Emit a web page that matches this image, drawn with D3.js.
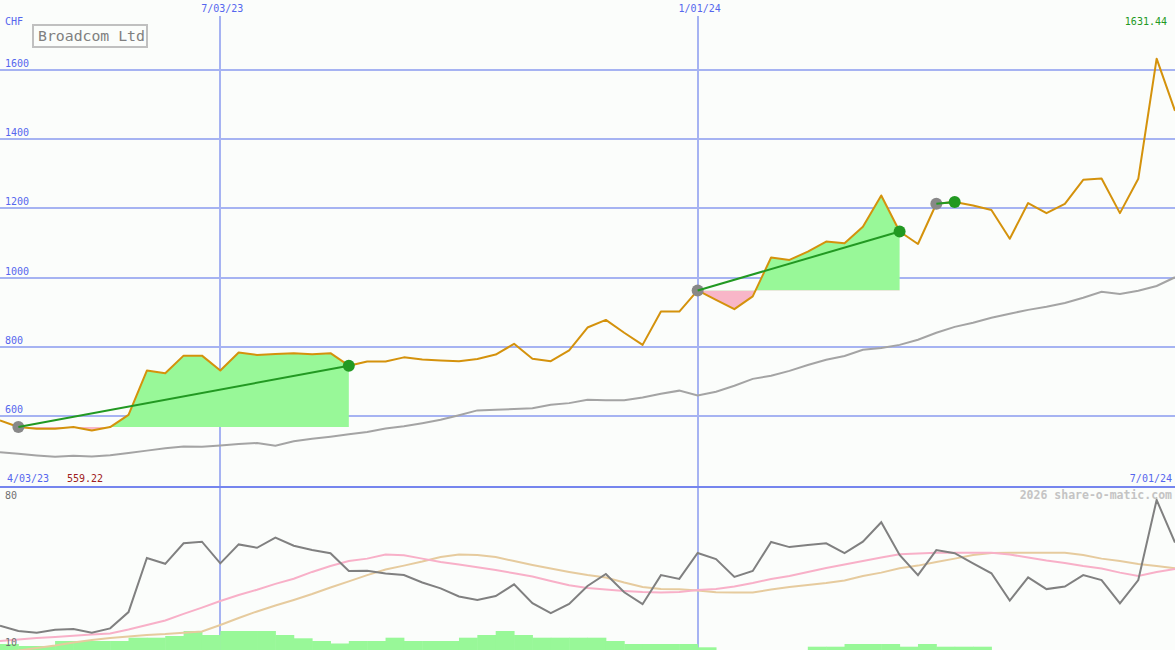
<!DOCTYPE html>
<html><head><meta charset="utf-8">
<script src="https://cdn.jsdelivr.net/npm/d3@7"></script>
<style>body{margin:0;background:#fbfdfb;} svg{display:block;}</style>
</head><body><svg id="c" width="1175" height="650"></svg>
<script>
// ---- data ----
const dates = ["2023-04-10","2023-04-17","2023-04-24","2023-05-01","2023-05-08","2023-05-15","2023-05-22","2023-05-29","2023-06-05","2023-06-12",
"2023-06-19","2023-06-26","2023-07-03","2023-07-10","2023-07-17","2023-07-24","2023-07-31","2023-08-07","2023-08-14","2023-08-21",
"2023-08-28","2023-09-04","2023-09-11","2023-09-18","2023-09-25","2023-10-02","2023-10-09","2023-10-16","2023-10-23","2023-10-30",
"2023-11-06","2023-11-13","2023-11-20","2023-11-27","2023-12-04","2023-12-11","2023-12-18","2023-12-25","2024-01-01","2024-01-08",
"2024-01-15","2024-01-22","2024-01-29","2024-02-05","2024-02-12","2024-02-19","2024-02-26","2024-03-04","2024-03-11","2024-03-18",
"2024-03-25","2024-04-01","2024-04-08","2024-04-15","2024-04-22","2024-04-29","2024-05-06","2024-05-13","2024-05-20","2024-05-27",
"2024-06-03","2024-06-10","2024-06-17","2024-06-24","2024-07-01"];
const price = [588,569,564,564,569,559.22,569,604,732,724,
775,775,732,784,777,780,782,779,782,746,
758,758,770,764,761,759,765,778,809,766,
759,790,856,878,841,806,902,902,963,936,
909,946,1058,1051,1075,1104,1099,1147,1237,1133,
1097,1213,1218,1208,1195,1112,1215,1186,1213,1282,
1286,1186,1285,1631.44,1481];
const movingAvg = [496,492,487,483,486,484,488,494,501,508,
513,512,516,520,523,515,528,535,541,548,
555,565,571,580,590,603,617,619,621,623,
633,638,648,646,646,654,665,674,660,671,
688,708,717,731,748,763,774,792,797,806,
821,841,858,870,884,896,907,916,927,942,
959,953,962,976,1001];
const oscillator = [19.9,17.5,16.8,18.1,18.4,16.8,18.7,25.9,49.9,47.3,
56.4,57.1,47.5,55.9,54.4,58.9,55.3,53.4,52.0,44.1,
44.2,43.0,42.3,39.0,36.4,32.8,31.3,33.0,38.2,29.9,
25.4,29.5,37.5,42.8,34.7,29.4,42.3,40.6,52.1,49.4,
41.5,44.1,57.0,54.7,55.6,56.4,52.0,57.1,65.7,51.2,
42.3,53.4,52.0,47.5,43.1,31.0,41.3,36.1,37.2,42.3,
40.1,29.8,40.1,75.6,56.7];
const oscFast = [13.1,13.8,14.4,14.9,15.4,16.0,16.4,18.2,20.2,22.2,
25.1,27.9,30.8,33.5,35.8,38.4,40.7,43.7,46.3,48.5,
49.6,51.4,51.1,49.6,48.1,47.0,45.8,44.6,43.1,41.7,
39.7,37.8,36.6,35.9,35.3,34.8,34.6,34.8,35.7,36.1,
37.2,38.8,40.6,41.9,43.7,45.4,47.0,48.5,50.1,51.5,
51.9,52.2,52.2,52.2,52.2,51.4,50.1,48.8,47.7,46.3,
45.2,43.4,41.9,43.7,45.0];
const oscSlow = [8.2,8.9,10.0,11.1,12.4,13.5,14.4,15.1,15.8,16.2,
16.8,17.3,20.2,23.3,26.2,28.8,31.3,33.9,36.8,39.5,
42.3,44.8,46.5,48.3,50.3,51.4,51.2,50.3,48.5,46.8,
45.2,43.7,42.3,41.2,39.0,37.0,36.1,36.0,35.5,34.7,
34.6,34.6,35.9,37.0,37.9,38.8,39.9,41.9,43.4,45.3,
46.5,48.1,49.6,51.2,52.1,52.2,52.2,52.2,52.2,51.2,
49.6,48.5,47.2,46.3,45.3];
const volume = [6,4,4,9,9,9,9,12.3,12.3,14,
19,15,19,19,19,15,11.7,9,6.5,9,
9,12.3,9,9,9,12.3,15,19,15,12.3,
12.3,12.3,12.3,9,6,6,6,6,2.7,0,
0,0,0,0,3.3,3.3,6,6,6,3.3,
6,3.3,3.3,3.3,0,0,0,0,0,0,
0,0,0,0,0];
const priceTicks = [600,800,1000,1200,1400,1600];
const dateTickDates = ["2023-07-03","2024-01-01"];
const dateTickLabels = ["7/03/23","1/01/24"];
const trendStarts = [1,38,51];
const trendEnds = [19,49,52];
const title = "Broadcom Ltd";
const currency = "CHF";
const startLabel = "4/03/23", endLabel = "7/01/24";
const minLabel = "559.22", maxLabel = "1631.44";
const oscTicks = [80,10];
const credit = "2026 share-o-matic.com";

// ---- drawing ----
const parse = d3.timeParse("%Y-%m-%d");
const D = dates.map(parse);
const W = 1175, H = 650;
const svg = d3.select("#c");
const FONT = "DejaVu Sans Mono, monospace";

const x = d3.scaleTime().domain([D[0], D[D.length-1]]).range([0, W]);
const y = d3.scaleLinear().domain([600,1600]).range([416.3, 69.6]);
const yo = d3.scaleLinear().domain([10,80]).range([648, 490]);
const yv = d3.scaleLinear().domain([0,20]).range([650, 630]);

svg.append("rect").attr("width",W).attr("height",H).attr("fill","#fbfdfb");

const defs = svg.append("defs");
defs.append("clipPath").attr("id","upper").append("rect").attr("x",0).attr("y",0).attr("width",W).attr("height",486);
defs.append("clipPath").attr("id","lower").append("rect").attr("x",0).attr("y",488).attr("width",W).attr("height",H-488);

const gridCol = "#a6b3f2";
// horizontal grid
svg.append("g").selectAll("line").data(priceTicks).join("line")
  .attr("x1",0).attr("x2",W)
  .attr("y1",d=>Math.round(y(d))).attr("y2",d=>Math.round(y(d)))
  .attr("stroke",gridCol).attr("stroke-width",2);
// vertical grid
svg.append("g").selectAll("line").data(dateTickDates).join("line")
  .attr("x1",d=>Math.round(x(parse(d)))).attr("x2",d=>Math.round(x(parse(d))))
  .attr("y1",16).attr("y2",H)
  .attr("stroke",gridCol).attr("stroke-width",2);

// fills for trend segments
const up = svg.append("g").attr("clip-path","url(#upper)");
trendStarts.forEach((s,k)=>{
  const e = trendEnds[k];
  const base = price[s];
  const yb = y(base);
  const idx = d3.range(s, e+1);
  const area = d3.area().x(i=>x(D[i])).y0(yb).y1(i=>y(price[i]));
  const ca = "above"+k, cb = "below"+k;
  defs.append("clipPath").attr("id",ca).append("rect").attr("x",0).attr("y",0).attr("width",W).attr("height",yb);
  defs.append("clipPath").attr("id",cb).append("rect").attr("x",0).attr("y",yb).attr("width",W).attr("height",H-yb);
  up.append("path").attr("d",area(idx)).attr("fill","#98f898").attr("clip-path",`url(#${ca})`);
  up.append("path").attr("d",area(idx)).attr("fill","#f8b6c8").attr("clip-path",`url(#${cb})`);
});

// moving average
up.append("path").datum(d3.range(D.length))
  .attr("d",d3.line().x(i=>x(D[i])).y(i=>y(movingAvg[i])))
  .attr("fill","none").attr("stroke","#a4a4a4").attr("stroke-width",2);
// price
up.append("path").datum(d3.range(D.length))
  .attr("d",d3.line().x(i=>x(D[i])).y(i=>y(price[i])))
  .attr("fill","none").attr("stroke","#d4920c").attr("stroke-width",2).attr("stroke-linejoin","round");

// start markers
up.selectAll("circle.s").data(trendStarts).join("circle")
  .attr("cx",i=>x(D[i])).attr("cy",i=>y(price[i])).attr("r",6).attr("fill","#888888");
// trend lines
trendStarts.forEach((s,k)=>{
  const e = trendEnds[k];
  up.append("line").attr("x1",x(D[s])).attr("y1",y(price[s])).attr("x2",x(D[e])).attr("y2",y(price[e]))
    .attr("stroke","#229922").attr("stroke-width",2);
});
up.selectAll("circle.e").data(trendEnds).join("circle")
  .attr("cx",i=>x(D[i])).attr("cy",i=>y(price[i])).attr("r",6).attr("fill","#229922");

// separator
svg.append("line").attr("x1",0).attr("x2",W).attr("y1",487).attr("y2",487)
  .attr("stroke","#7585ee").attr("stroke-width",2);

// lower panel
const lo = svg.append("g").attr("clip-path","url(#lower)");
lo.selectAll("rect").data(d3.range(D.length-1)).join("rect")
  .attr("x",i=>x(D[i])).attr("width",i=>x(D[i+1])-x(D[i])+0.5)
  .attr("y",i=>yv(volume[i])).attr("height",i=>yv(0)-yv(volume[i]))
  .attr("fill","#98f898");
const lineO = arr => d3.line().x(i=>x(D[i])).y(i=>yo(arr[i]));
lo.append("path").datum(d3.range(D.length)).attr("d",lineO(oscSlow))
  .attr("fill","none").attr("stroke","#e6cb9e").attr("stroke-width",2);
lo.append("path").datum(d3.range(D.length)).attr("d",lineO(oscFast))
  .attr("fill","none").attr("stroke","#f8b0c8").attr("stroke-width",2);
lo.append("path").datum(d3.range(D.length)).attr("d",lineO(oscillator))
  .attr("fill","none").attr("stroke","#808080").attr("stroke-width",2);

// texts
const txt = (t,xx,yy,col,opts={}) => svg.append("text").text(t).attr("x",xx).attr("y",yy)
  .attr("fill",col).attr("font-family",FONT).attr("font-size",opts.size||10)
  .attr("font-weight",opts.weight||"normal").attr("text-anchor",opts.anchor||"start");
const blue = "#5566ee";
txt(currency,5,25,blue);
priceTicks.forEach(v=>txt(String(v),5,Math.round(y(v))-3,blue));
dateTickDates.forEach((d,k)=>txt(dateTickLabels[k],x(parse(d))+2,12,blue,{anchor:"middle"}));
txt(startLabel,7,482,blue);
txt(minLabel,67,482,"#a02020");
txt(endLabel,1172,482,blue,{anchor:"end"});
txt(maxLabel,1167,25,"#229922",{anchor:"end"});
txt(credit,1172,499,"#c4c4c4",{size:11.5,weight:"bold",anchor:"end"});
txt(String(oscTicks[0]),5,499,"#707070");
txt(String(oscTicks[1]),5,646,"#707070");

// title box
svg.append("rect").attr("x",33).attr("y",25).attr("width",114).attr("height",22)
  .attr("fill","none").attr("stroke","#c0c0c0").attr("stroke-width",2);
txt(title,38,41,"#808080",{size:14.8});
</script></body></html>
